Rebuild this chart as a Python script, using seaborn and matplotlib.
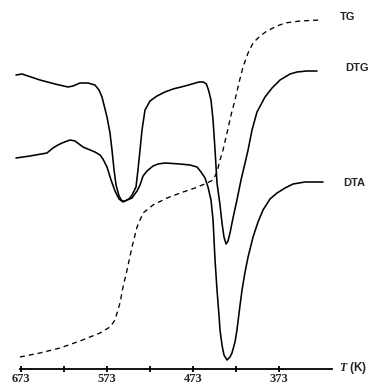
import matplotlib
matplotlib.use("Agg")
import matplotlib.pyplot as plt
import seaborn as sns
import pandas as pd

# ---- data (temperature in K, signal in arbitrary units) ----
dtg_T = [678.8, 671.8, 650.9, 633.5, 618.3, 612.5, 604.4, 595.1, 587.0, 582.3,
         578.8, 573.0, 569.5, 567.2, 564.8, 562.5, 559.0, 555.6, 552.1, 547.4,
         543.9, 539.3, 537.0, 534.6, 532.3, 528.8, 523.0, 514.9, 505.6, 496.3,
         482.3, 466.0, 461.0, 457.5, 455.0, 452.1, 449.7, 447.4, 445.1, 441.6, 439.3,
         437.0, 434.6, 432.3, 430.0, 426.5, 421.9, 417.2, 412.5, 409.0, 404.4,
         398.6, 389.3, 381.1, 371.8, 360.2, 352.1, 340.4, 328.8]
dtg_S = [309, 310, 304, 300, 297, 298, 301, 301, 299, 294,
         287, 267, 251, 234, 214, 199, 188, 183, 183, 185,
         189, 197, 214, 234, 254, 274, 283, 288, 292, 295,
         298, 302, 302, 300, 294, 284, 264, 234, 201, 179, 161,
         147, 140, 143, 151, 166, 184, 204, 221, 234, 254,
         272, 287, 296, 304, 310, 312, 313, 313]

dta_T = [678.8, 662.5, 642.8, 635.8, 630.0, 625.3, 616.0, 610.2, 600.9, 587.0,
         581.1, 577.7, 573.0, 568.3, 563.7, 559.0, 554.4, 549.7, 543.9, 538.1,
         534.6, 531.1, 526.5, 519.5, 513.7, 505.6, 488.1, 476.5, 468.3, 463.7,
         459.0, 455.6, 452.1, 449.7, 447.4, 445.1, 442.8, 441.6, 439.3, 437.0,
         433.5, 430.0, 427.7, 424.2, 421.9, 418.3, 416.0, 412.5, 409.0, 403.2,
         397.4, 391.6, 383.5, 375.3, 366.0, 356.7, 342.8, 321.8]
dta_S = [226, 228, 231, 236, 239, 241, 244, 243, 237, 232,
         229, 225, 217, 204, 193, 185, 182, 184, 186, 193,
         199, 208, 213, 218, 220, 221, 220, 219, 217, 212,
         206, 197, 184, 164, 124, 94, 69, 54, 39, 29,
         24, 27, 31, 42, 54, 79, 94, 112, 127, 147,
         162, 174, 185, 191, 196, 200, 202, 202]

tg_T = [674.2, 650.9, 627.7, 604.4, 592.8, 581.1, 569.5, 563.7, 557.9, 554.4,
        549.7, 543.9, 538.1, 531.1, 519.5, 503.2, 484.6, 470.7, 456.7, 449.7,
        445.1, 441.6, 438.1, 433.5, 428.8, 424.2, 419.6, 414.9, 409.0, 403.2,
        395.1, 387.0, 375.3, 366.0, 348.6, 325.3]
tg_S = [27, 31, 36, 43, 47, 51, 57, 64, 81, 97,
        114, 137, 157, 171, 179, 186, 192, 196, 201, 204,
        212, 224, 234, 251, 269, 284, 301, 317, 331, 341,
        348, 353, 358, 361, 363, 364]

major_ticks = [673, 573, 473, 373]
minor_ticks = [623, 523, 423]
tick_labels = ["673", "573", "473", "373"]
curve_labels = ["TG", "DTG", "DTA"]
axis_label = r"$T$ (K)"

# ---- plot ----
sns.set_style("white")
plt.rcParams["font.family"] = ["Liberation Serif", "DejaVu Serif"]
plt.rcParams["mathtext.fontset"] = "custom"
plt.rcParams["mathtext.it"] = "Liberation Serif:italic:bold"
plt.rcParams["mathtext.rm"] = "Liberation Sans:bold"

fig = plt.figure(figsize=(3.72, 3.84), dpi=100)
ax = fig.add_axes([0, 0, 1, 1])

df_dtg = pd.DataFrame({"T": dtg_T, "S": dtg_S})
df_dta = pd.DataFrame({"T": dta_T, "S": dta_S})
df_tg = pd.DataFrame({"T": tg_T, "S": tg_S})

sns.lineplot(data=df_dtg, x="T", y="S", color="black", linewidth=1.15,
             sort=False, estimator=None, ax=ax)
sns.lineplot(data=df_dta, x="T", y="S", color="black", linewidth=1.15,
             sort=False, estimator=None, ax=ax)
sns.lineplot(data=df_tg, x="T", y="S", color="black", linewidth=0.95,
             linestyle=(0, (3.8, 3.0)), sort=False, estimator=None, ax=ax)

ax.set_xlim(697.4, 264.9)
ax.set_ylim(0, 384)
ax.set_xlabel("")
ax.set_ylabel("")

for s in ["top", "left", "right"]:
    ax.spines[s].set_visible(False)
ax.spines["bottom"].set_position(("data", 15))
ax.spines["bottom"].set_bounds(311.4, 674.5)
ax.spines["bottom"].set_linewidth(1.3)
ax.spines["bottom"].set_color("black")

ax.set_yticks([])
ax.set_xticks(major_ticks)
ax.set_xticklabels(tick_labels, fontweight="bold")
ax.set_xticks(minor_ticks, minor=True)
ax.tick_params(axis="x", which="both", direction="inout", length=5,
               width=1.3, color="black", bottom=True)
ax.tick_params(axis="x", which="major", labelsize=9, pad=0.5)

lab_font = ["Liberation Sans", "DejaVu Sans"]
ax.text(302.1, 367, curve_labels[0], fontsize=8, fontweight="bold",
        family=lab_font, va="center", ha="left")
ax.text(296.3, 316, curve_labels[1], fontsize=8, fontweight="bold",
        family=lab_font, va="center", ha="left")
ax.text(298.6, 201, curve_labels[2], fontsize=8, fontweight="bold",
        family=lab_font, va="center", ha="left")
ax.text(303.0, 16, axis_label, fontsize=8.5, fontweight="bold",
        family=lab_font, va="center", ha="left")

fig.savefig("out.png", dpi=100)
